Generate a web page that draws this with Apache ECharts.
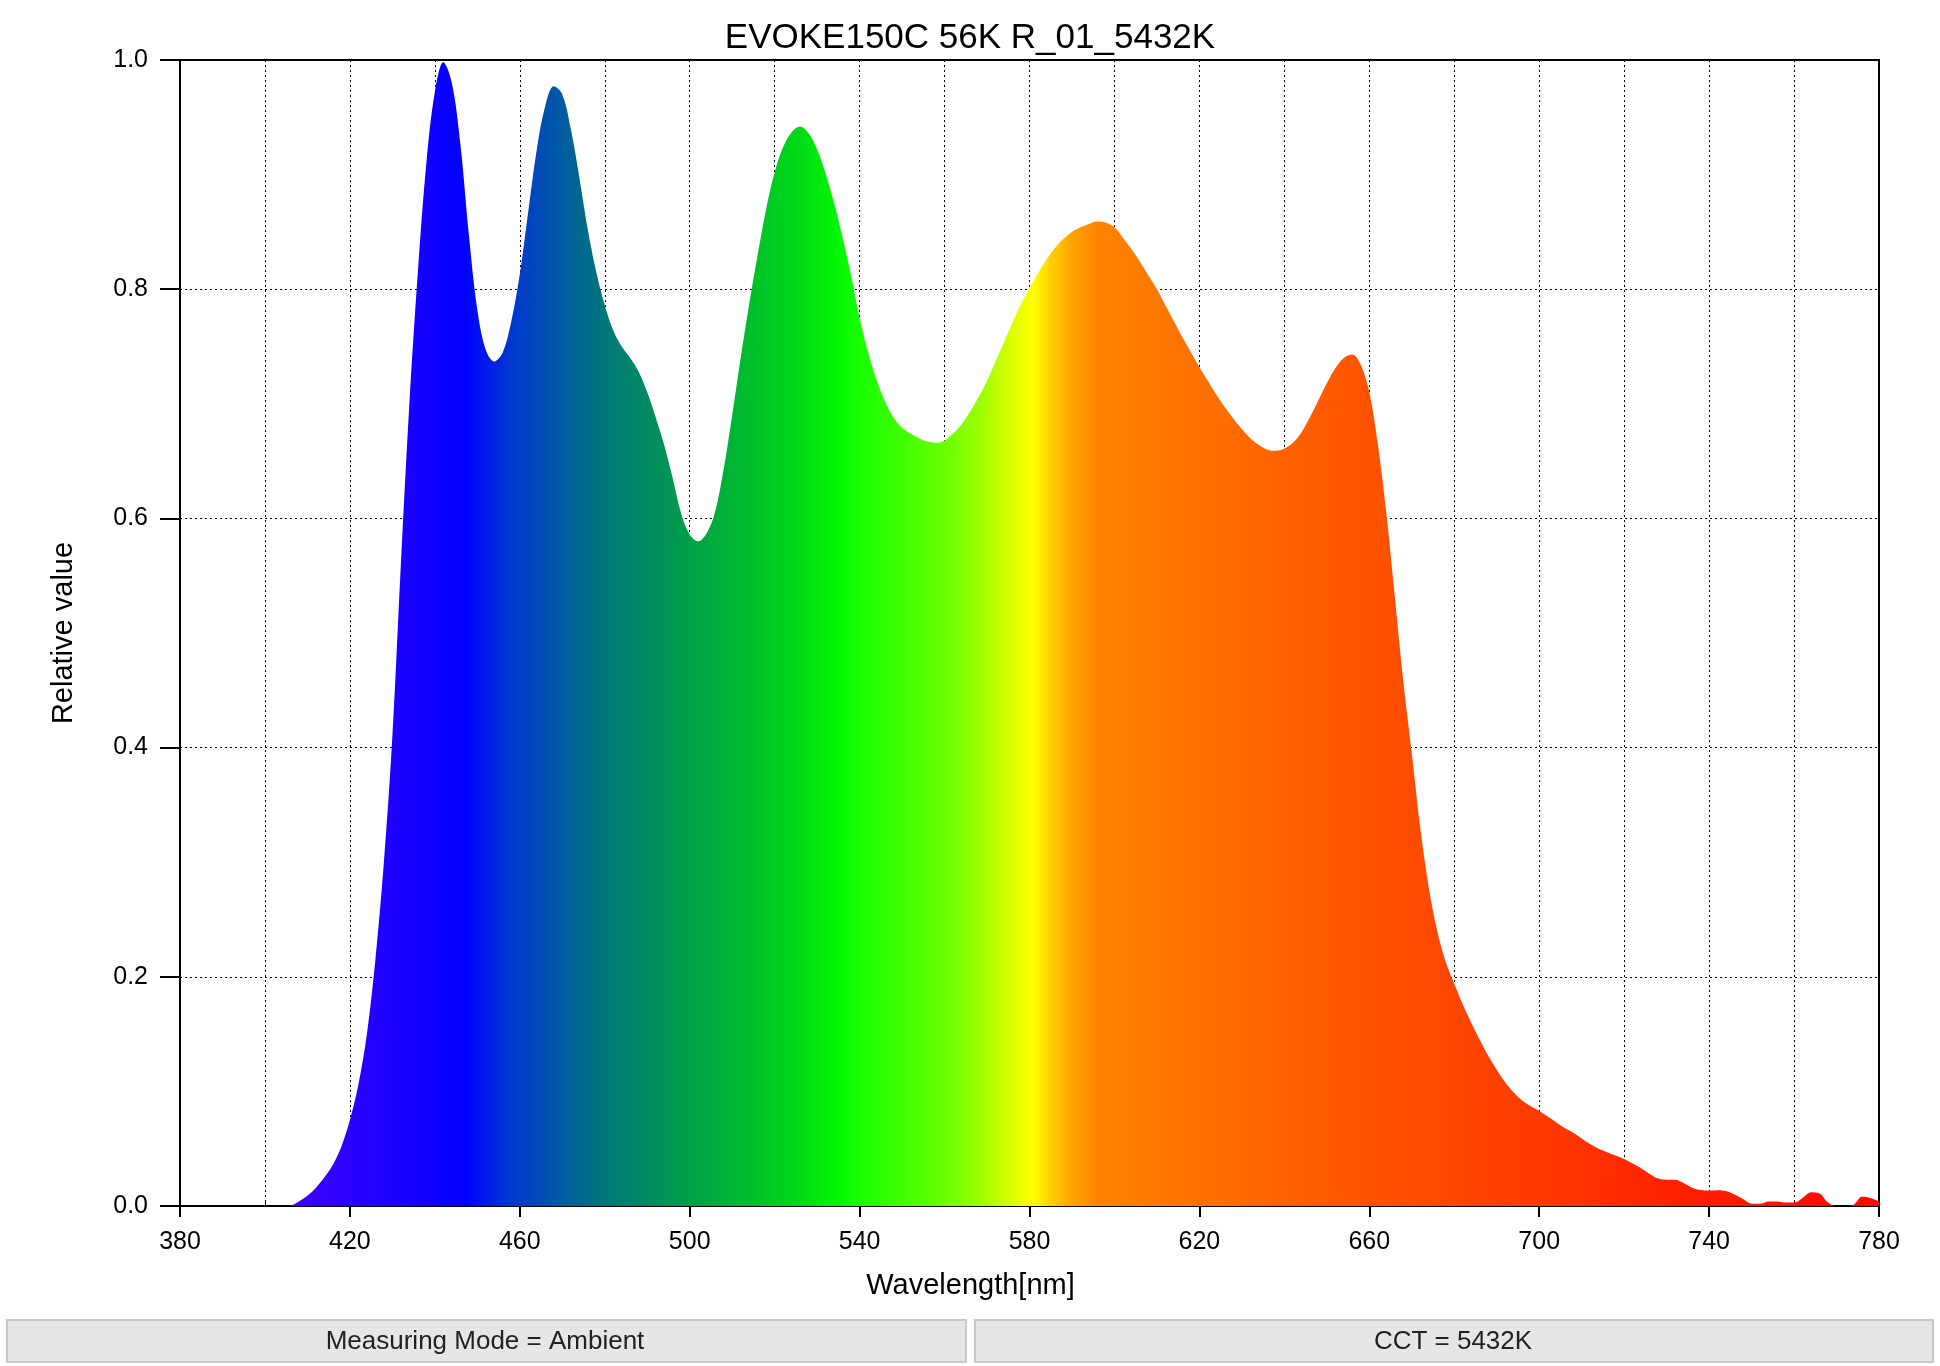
<!DOCTYPE html>
<html>
<head>
<meta charset="utf-8">
<title>EVOKE150C 56K R_01_5432K</title>
<script src="https://cdn.jsdelivr.net/npm/echarts@6/dist/echarts.min.js"></script>
<style>
  html, body { margin: 0; padding: 0; background: #fff; }
  #main { width: 1940px; height: 1366px; }
</style>
</head>
<body>
<div id="main"></div>
<script>
// spectrum, 2 nm steps
var wavelengths = [
  406, 408, 410, 412, 414, 416, 418, 420, 422, 424, 426, 428, 430, 432, 434, 436, 438, 440,
  442, 444, 446, 448, 450, 452, 454, 456, 458, 460, 462, 464, 466, 468, 470, 472, 474, 476,
  478, 480, 482, 484, 486, 488, 490, 492, 494, 496, 498, 500, 502, 504, 506, 508, 510, 512,
  514, 516, 518, 520, 522, 524, 526, 528, 530, 532, 534, 536, 538, 540, 542, 544, 546, 548,
  550, 552, 554, 556, 558, 560, 562, 564, 566, 568, 570, 572, 574, 576, 578, 580, 582, 584,
  586, 588, 590, 592, 594, 596, 598, 600, 602, 604, 606, 608, 610, 612, 614, 616, 618, 620,
  622, 624, 626, 628, 630, 632, 634, 636, 638, 640, 642, 644, 646, 648, 650, 652, 654, 656,
  658, 660, 662, 664, 666, 668, 670, 672, 674, 676, 678, 680, 682, 684, 686, 688, 690, 692,
  694, 696, 698, 700, 702, 704, 706, 708, 710, 712, 714, 716, 718, 720, 722, 724, 726, 728,
  730, 732, 734, 736, 738, 740, 742, 744, 746, 748, 750, 752, 754, 756, 758, 760, 762, 764,
  766, 768, 770, 772, 774, 776, 778, 780
];
var relValues = [
  0, 0.004, 0.009, 0.016, 0.025, 0.036, 0.052, 0.075, 0.106, 0.15, 0.215, 0.30, 0.41, 0.56, 0.70, 0.815, 0.91, 0.972,
  0.998, 0.98, 0.927, 0.848, 0.782, 0.747, 0.737, 0.745, 0.772, 0.813, 0.868, 0.922, 0.96, 0.977, 0.97, 0.94, 0.898, 0.852,
  0.815, 0.786, 0.764, 0.75, 0.74, 0.728, 0.71, 0.688, 0.664, 0.635, 0.604, 0.586, 0.58, 0.587, 0.606, 0.643, 0.69, 0.74,
  0.787, 0.83, 0.87, 0.902, 0.924, 0.937, 0.942, 0.936, 0.922, 0.901, 0.875, 0.845, 0.812, 0.775, 0.745, 0.721, 0.702, 0.688,
  0.679, 0.674, 0.67, 0.667, 0.666, 0.668, 0.674, 0.682, 0.693, 0.706, 0.72, 0.737, 0.754, 0.771, 0.787, 0.801, 0.814, 0.826,
  0.836, 0.844, 0.85, 0.854, 0.857, 0.859, 0.858, 0.854, 0.845, 0.835, 0.824, 0.812, 0.8, 0.786, 0.772, 0.758, 0.745, 0.732,
  0.72, 0.708, 0.697, 0.687, 0.678, 0.67, 0.664, 0.66, 0.659, 0.661, 0.666, 0.675, 0.688, 0.703, 0.718, 0.731, 0.74, 0.743,
  0.734, 0.71, 0.665, 0.605, 0.532, 0.458, 0.395, 0.33, 0.278, 0.24, 0.213, 0.194, 0.176, 0.16, 0.145, 0.131, 0.119, 0.108,
  0.099, 0.092, 0.087, 0.083, 0.078, 0.073, 0.068, 0.064, 0.059, 0.054, 0.05, 0.047, 0.044, 0.041, 0.037, 0.033, 0.028, 0.024,
  0.023, 0.023, 0.02, 0.016, 0.014, 0.0135, 0.0138, 0.013, 0.01, 0.006, 0.002, 0.002, 0.004, 0.004, 0.003, 0.003, 0.007, 0.012,
  0.011, 0.003, 0, 0, 0.001, 0.008, 0.007, 0.004
];
var xTicks = [380, 420, 460, 500, 540, 580, 620, 660, 700, 740, 780];
var yTicks = [0, 0.2, 0.4, 0.6, 0.8, 1.0];
var infoTexts = ['Measuring Mode = Ambient', 'CCT = 5432K'];

// fill colour along the wavelength
var spectrumColors = [
  [406, '#4400ff'], [420, '#2a00ff'], [438, '#1200ff'], [447, '#0000ff'], [457, '#0034d4'],
  [468, '#0056aa'], [480, '#007878'], [490, '#008a62'], [500, '#00a048'], [515, '#00c02a'],
  [525, '#00d818'], [535, '#00f800'], [540, '#18ff00'], [550, '#40ff00'], [560, '#6aff00'],
  [570, '#a8ff00'], [577, '#e6ff00'], [581, '#ffff00'], [585, '#ffd000'], [590, '#ffa400'],
  [596, '#ff8400'], [620, '#ff7000'], [640, '#ff6200'], [660, '#ff5200'], [680, '#ff4600'],
  [700, '#ff3a00'], [720, '#ff2a00'], [740, '#ff1c00'], [760, '#ff1000'], [780, '#ff0800']
];

var FONT = 'Liberation Sans';
var chart = echarts.init(document.getElementById('main'));

var wlMin = wavelengths[0], wlMax = wavelengths[wavelengths.length - 1];
var stops = spectrumColors.map(function (s) {
  var off = (s[0] - wlMin) / (wlMax - wlMin);
  return { offset: Math.max(0, Math.min(1, off)), color: s[1] };
});

var seriesData = wavelengths.map(function (w, i) { return [w, relValues[i]]; });

var dotted = { color: '#000', width: 1, type: [2, 3] };

var option = {
  backgroundColor: '#fff',
  animation: false,
  title: {
    text: 'EVOKE150C 56K R_01_5432K',
    left: 'center',
    top: 16,
    textStyle: { fontFamily: FONT, fontSize: 35, fontWeight: 'normal', color: '#000' }
  },
  grid: {
    left: 180, right: 61, top: 60, bottom: 160,
    show: true, borderColor: '#000', borderWidth: 2, backgroundColor: 'transparent'
  },
  xAxis: [{
    type: 'value',
    min: xTicks[0], max: xTicks[xTicks.length - 1], interval: 40,
    name: 'Wavelength[nm]',
    nameLocation: 'middle',
    nameGap: 65,
    nameTextStyle: { fontFamily: FONT, fontSize: 29, color: '#000', padding: [0, 118, 0, 0] },
    axisLine: { show: true, lineStyle: { color: '#000', width: 2 } },
    axisTick: { show: true, length: 11, lineStyle: { color: '#000', width: 2 } },
    axisLabel: { fontFamily: FONT, fontSize: 25, color: '#000', margin: 24 },
    splitLine: { show: false }
  }, {
    type: 'value',
    min: xTicks[0], max: xTicks[xTicks.length - 1], interval: 20,
    position: 'bottom',
    axisLine: { show: false },
    axisTick: { show: true, inside: true, length: 6, lineStyle: { color: '#000', width: 1 } },
    axisLabel: { show: false },
    splitLine: { show: true, lineStyle: dotted }
  }],
  yAxis: {
    type: 'value',
    min: yTicks[0], max: yTicks[yTicks.length - 1], interval: 0.2,
    name: 'Relative value',
    nameLocation: 'middle',
    nameGap: 102,
    nameTextStyle: { fontFamily: FONT, fontSize: 29, color: '#000' },
    axisLine: { show: true, lineStyle: { color: '#000', width: 2 } },
    axisTick: { show: true, length: 20, lineStyle: { color: '#000', width: 2 } },
    axisLabel: {
      fontFamily: FONT, fontSize: 25, color: '#000', margin: 32,
      formatter: function (v) { return v.toFixed(1); }
    },
    splitLine: { show: true, lineStyle: dotted }
  },
  series: [{
    type: 'line',
    xAxisIndex: 0,
    data: seriesData,
    smooth: 0.35,
    showSymbol: false,
    lineStyle: { width: 0 },
    areaStyle: {
      opacity: 1,
      color: new echarts.graphic.LinearGradient(0, 0, 1, 0, stops)
    },
    z: 1
  }],
  graphic: [
    {
      type: 'rect', left: 6, top: 1319,
      shape: { width: 959, height: 42 },
      style: { fill: '#e6e6e6', stroke: '#c8c8c8', lineWidth: 2 }
    },
    {
      type: 'rect', left: 974, top: 1319,
      shape: { width: 958, height: 42 },
      style: { fill: '#e6e6e6', stroke: '#c8c8c8', lineWidth: 2 }
    },
    {
      type: 'text', x: 485, y: 1342,
      style: { text: infoTexts[0], fontFamily: FONT, fontSize: 26, fill: '#222', align: 'center', verticalAlign: 'middle' }
    },
    {
      type: 'text', x: 1453, y: 1342,
      style: { text: infoTexts[1], fontFamily: FONT, fontSize: 26, fill: '#222', align: 'center', verticalAlign: 'middle' }
    }
  ]
};

chart.setOption(option);
</script>
</body>
</html>
